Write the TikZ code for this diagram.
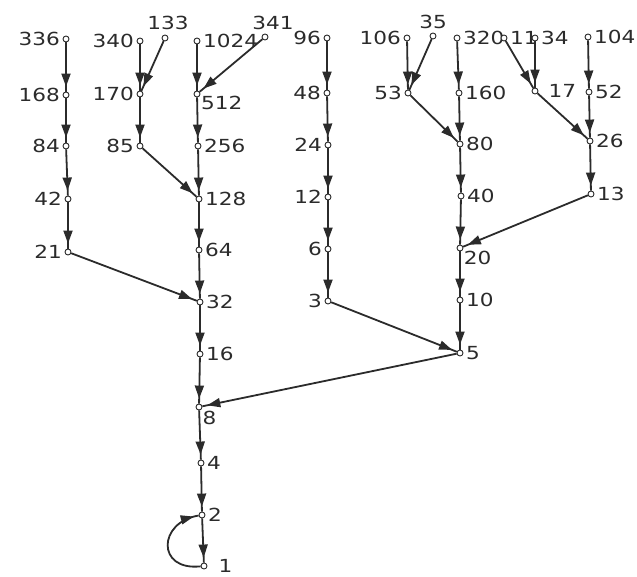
\documentclass[tikz,border=0pt]{standalone}
\usepackage{fontspec}
\setmainfont{DejaVu Sans}[FakeStretch=1.2]
\usetikzlibrary{decorations.markings,arrows.meta}
\definecolor{ink}{HTML}{2B2B2B}
\tikzset{
  vtx/.style={circle,draw=ink,fill=white,line width=0.9pt,inner sep=0pt,minimum size=6pt},
  lab/.style={font=\fontsize{18}{18}\selectfont,text=ink,inner sep=0pt,label distance=2.5pt},
  flow/.style={draw=ink,color=ink,line width=1.8pt,postaction={decorate},
    decoration={markings,mark=at position -5pt with {\arrow{Triangle[length=13pt,width=9pt]}}}},
}
\begin{document}
\begin{tikzpicture}[x=1pt,y=-1pt]
\useasboundingbox (0,0) rectangle (637,576);
% top row of starting values
\node[vtx,label={[lab]left:336}]  (n336)  at (66,39)  {};
\node[vtx,label={[lab]left:340}]  (n340)  at (140,41) {};
\node[vtx,label={[lab,label distance=5pt,xshift=3pt]90:133}]   (n133)  at (165,38) {};
\node[vtx,label={[lab]right:1024}](n1024) at (197,41) {};
\node[vtx,label={[lab,label distance=4pt,xshift=8pt]90:341}]   (n341)  at (265,37) {};
\node[vtx,label={[lab]left:96}]   (n96)   at (327,38) {};
\node[vtx,label={[lab]left:106}]  (n106)  at (407,38) {};
\node[vtx,label={[lab,label distance=4pt]90:35}]    (n35)   at (433,36) {};
\node[vtx,label={[lab]right:320}] (n320)  at (457,38) {};
\node[vtx,label={[lab]right:11}]  (n11)   at (504,38) {};
\node[vtx,label={[lab]right:34}]  (n34)   at (535,38) {};
\node[vtx,label={[lab]right:104}] (n104)  at (588,37) {};
% second row
\node[vtx,label={[lab]left:168}]  (n168)  at (66,95)  {};
\node[vtx,label={[lab]left:170}]  (n170)  at (140,94) {};
\node[vtx,label={[lab,label distance=1pt]-25:512}]  (n512)  at (197,94) {};
\node[vtx,label={[lab]left:48}]   (n48)   at (327,93) {};
\node[vtx,label={[lab]left:53}]   (n53)   at (408,93) {};
\node[vtx,label={[lab]right:160}] (n160)  at (459,93) {};
\node[vtx,label={[lab,label distance=10pt]right:17}] (n17) at (535,91) {};
\node[vtx,label={[lab]right:52}]  (n52)   at (589,92) {};
% third row
\node[vtx,label={[lab]left:84}]   (n84)   at (66,146) {};
\node[vtx,label={[lab]left:85}]   (n85)   at (140,146) {};
\node[vtx,label={[lab]right:256}] (n256)  at (198,146) {};
\node[vtx,label={[lab]left:24}]   (n24)   at (328,145) {};
\node[vtx,label={[lab]right:80}]  (n80)   at (460,144) {};
\node[vtx,label={[lab]right:26}]  (n26)   at (590,141) {};
% fourth row
\node[vtx,label={[lab]left:42}]   (n42)   at (68,199) {};
\node[vtx,label={[lab]right:128}] (n128)  at (199,199) {};
\node[vtx,label={[lab]left:12}]   (n12)   at (328,197) {};
\node[vtx,label={[lab]right:40}]  (n40)   at (461,196) {};
\node[vtx,label={[lab]right:13}]  (n13)   at (591,194) {};
% fifth row
\node[vtx,label={[lab]left:21}]   (n21)   at (68,252) {};
\node[vtx,label={[lab]right:64}]  (n64)   at (199,250) {};
\node[vtx,label={[lab]left:6}]    (n6)    at (328,249) {};
\node[vtx,label={[lab,label distance=1pt]-35:20}]   (n20)   at (460,248) {};
% lower part
\node[vtx,label={[lab]right:32}]  (n32)   at (200,302) {};
\node[vtx,label={[lab]left:3}]    (n3)    at (328,301) {};
\node[vtx,label={[lab]right:10}]  (n10)   at (460,300) {};
\node[vtx,label={[lab]right:16}]  (n16)   at (200,354) {};
\node[vtx,label={[lab]right:5}]   (n5)    at (460,353) {};
\node[vtx,label={[lab,label distance=2pt]-50:8}]    (n8)    at (199,407) {};
\node[vtx,label={[lab]right:4}]   (n4)    at (201,463) {};
\node[vtx,label={[lab]right:2}]   (n2)    at (202,515) {};
\node[vtx,label={[lab,label distance=11pt]right:1}] (n1)    at (204,566) {};
% connectors
\draw[flow] (n336) -- (n168);
\draw[flow] (n168) -- (n84);
\draw[flow] (n84) -- (n42);
\draw[flow] (n42) -- (n21);
\draw[flow] (n21) -- (n32);
\draw[flow] (n340) -- (n170);
\draw[flow] (n133) -- (n170);
\draw[flow] (n170) -- (n85);
\draw[flow] (n85) -- (n128);
\draw[flow] (n1024) -- (n512);
\draw[flow] (n341) -- (n512);
\draw[flow] (n512) -- (n256);
\draw[flow] (n256) -- (n128);
\draw[flow] (n128) -- (n64);
\draw[flow] (n64) -- (n32);
\draw[flow] (n32) -- (n16);
\draw[flow] (n16) -- (n8);
\draw[flow] (n8) -- (n4);
\draw[flow] (n4) -- (n2);
\draw[flow] (n2) -- (n1);
\draw[flow] (n1) .. controls (156,571) and (158,522) .. (n2);
\draw[flow] (n96) -- (n48);
\draw[flow] (n48) -- (n24);
\draw[flow] (n24) -- (n12);
\draw[flow] (n12) -- (n6);
\draw[flow] (n6) -- (n3);
\draw[flow] (n3) -- (n5);
\draw[flow] (n106) -- (n53);
\draw[flow] (n35) -- (n53);
\draw[flow] (n53) -- (n80);
\draw[flow] (n320) -- (n160);
\draw[flow] (n160) -- (n80);
\draw[flow] (n80) -- (n40);
\draw[flow] (n40) -- (n20);
\draw[flow] (n20) -- (n10);
\draw[flow] (n10) -- (n5);
\draw[flow] (n11) -- (n17);
\draw[flow] (n34) -- (n17);
\draw[flow] (n17) -- (n26);
\draw[flow] (n104) -- (n52);
\draw[flow] (n52) -- (n26);
\draw[flow] (n26) -- (n13);
\draw[flow] (n13) -- (n20);
\draw[flow] (n5) -- (n8);
\end{tikzpicture}
\end{document}
